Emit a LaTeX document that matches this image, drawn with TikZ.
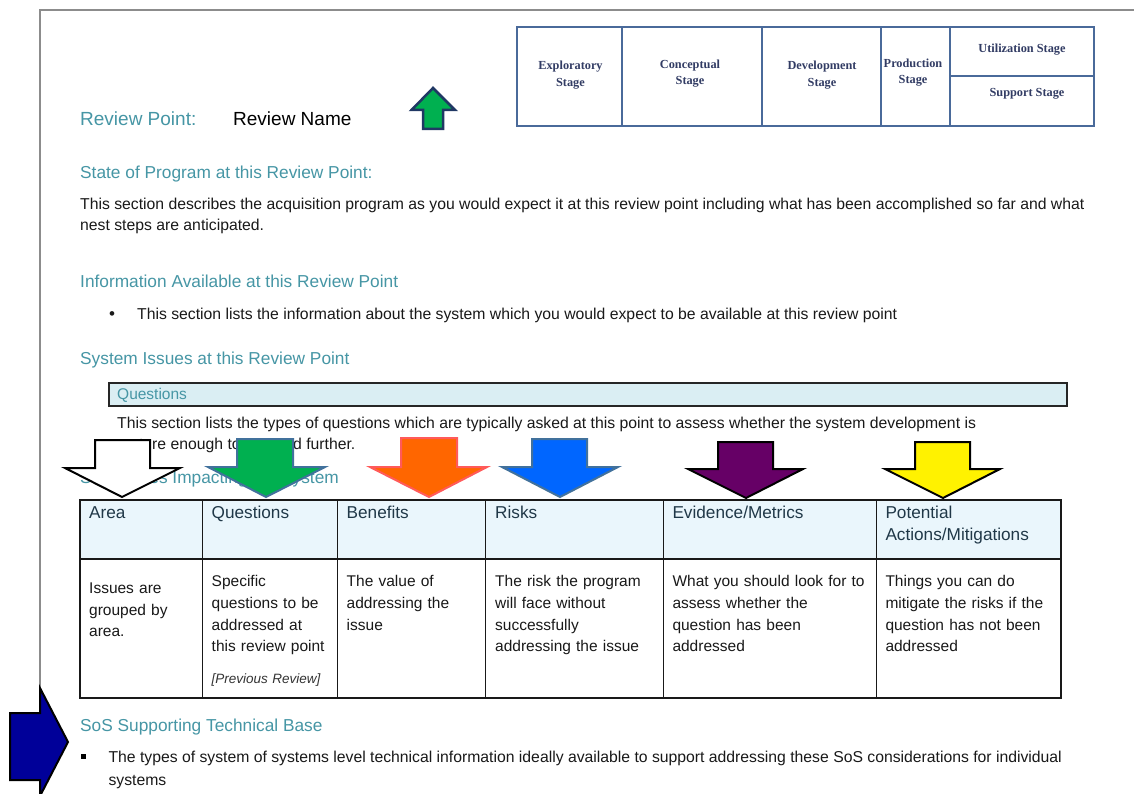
\documentclass[tikz,border=0pt]{standalone}
\usepackage{fontspec}
\setmainfont{Liberation Sans}
\newfontfamily\stagefont{Liberation Serif}
\definecolor{tealhead}{RGB}{70,150,165}
\definecolor{thtext}{RGB}{32,56,72}
\definecolor{thfill}{RGB}{234,246,252}
\definecolor{qfill}{RGB}{218,238,243}
\definecolor{stageline}{RGB}{74,106,154}
\definecolor{stagetext}{RGB}{50,60,100}
\definecolor{framegray}{RGB}{140,140,140}
\definecolor{agreen}{RGB}{0,176,80}
\definecolor{aorange}{RGB}{255,102,0}
\definecolor{aorangeline}{RGB}{255,90,90}
\definecolor{ablue}{RGB}{0,102,255}
\definecolor{asteel}{RGB}{65,113,156}
\definecolor{apurple}{RGB}{102,0,102}
\definecolor{anavy}{RGB}{0,0,153}
\definecolor{upline}{RGB}{32,56,100}
\definecolor{bodytext}{RGB}{25,25,25}
\begin{document}
\begin{tikzpicture}[x=1pt,y=-1pt,
  headtxt/.style={anchor=base west, inner sep=0pt, text=tealhead, font=\fontsize{17.3}{20}\selectfont},
  bodytxt/.style={anchor=base west, inner sep=0pt, text=bodytext, font=\fontsize{15.75}{21}\selectfont},
  thtxt/.style={anchor=base west, inner sep=0pt, text=thtext, font=\fontsize{17.2}{21.7}\selectfont, align=left, text width=170pt},
  tbtxt/.style={anchor=base west, inner sep=0pt, text=bodytext, font=\fontsize{15.5}{21.7}\selectfont, align=left, text width=200pt},
  stagetxt/.style={inner sep=0pt, text=stagetext, font=\stagefont\bfseries\fontsize{12.3}{16.6}\selectfont, align=center},
  bigarrow/.style={line width=2pt, line join=miter}
]
\useasboundingbox (0,0) rectangle (1134,794);
\fill[white] (0,0) rectangle (1134,794);

% page frame
\draw[framegray, line width=1.3pt] (40,794) -- (40,10) -- (1134,10);

% stage table
\draw[stageline, line width=1.5pt] (517,27) rectangle (1094,126);
\draw[stageline, line width=1.5pt] (622,27) -- (622,126) (762,27) -- (762,126)
  (881,27) -- (881,126) (950,27) -- (950,126) (950,76) -- (1094,76);
\node[stagetxt] (st1) at (570.5,75) {Exploratory\\Stage};
\node[stagetxt] (st2) at (690,73.5) {Conceptual\\Stage};
\node[stagetxt] (st3) at (822,75) {Development\\Stage};
\node[stagetxt] (st4) at (913,72.5) {Production\\Stage};
\node[stagetxt] (st5) at (1022,49.5) {Utilization Stage};
\node[stagetxt] (st6) at (1027,93.5) {Support Stage};

% review point
\node[headtxt, font=\fontsize{19}{22}\selectfont] (rp) at (80,126) {Review Point:};
\node[bodytxt, text=black, font=\fontsize{19}{22}\selectfont] (rn) at (233,126) {Review Name};
\draw[bigarrow, fill=agreen, draw=upline, line width=2.5pt]
  (433,88) -- (455,110) -- (443,110) -- (443,129) -- (423,129) -- (423,110) -- (411.5,110) -- cycle;

% sections
\node[headtxt] (s1) at (80,179) {State of Program at this Review Point:};
\node[bodytxt] (p1) at (80,209.5) {This section describes the acquisition program as you would expect it at this review point including what has been accomplished so far and what};
\node[bodytxt] (p2) at (80,230.5) {nest steps are anticipated.};

\node[headtxt] (s2) at (80,287) {Information Available at this Review Point};
\node[bodytxt, font=\fontsize{17}{21}\selectfont] (b1) at (109,319) {\textbullet};
\node[bodytxt] (p3) at (137,319) {This section lists the information about the system which you would expect to be available at this review point};

\node[headtxt] (s3) at (80,364.5) {System Issues at this Review Point};
\draw[fill=qfill, draw=black!85, line width=1.1pt] (109,383) rectangle (1067,406);
\node[bodytxt, text=tealhead, font=\fontsize{15.5}{18}\selectfont] (q) at (117,399) {Questions};
\node[bodytxt] (p4) at (117,428) {This section lists the types of questions which are typically asked at this point to assess whether the system development is};
\node[bodytxt] (p5) at (117,449) {mature enough to proceed further.};

\node[headtxt] (s4) at (80,483.5) {SoS Issues Impacting the System};

% table
\fill[thfill] (80,500) rectangle (1061,559);
\draw[black!90, line width=1.2pt] (80,500) rectangle (1061,698) (80,559) -- (1061,559)
  (202.7,500) -- (202.7,698) (337.3,500) -- (337.3,698) (485.7,500) -- (485.7,698)
  (663.3,500) -- (663.3,698) (876.7,500) -- (876.7,698);

\node[thtxt] (h1) at (89,518.5) {Area};
\node[thtxt] (h2) at (211.5,518.5) {Questions};
\node[thtxt] (h3) at (346.5,518.5) {Benefits};
\node[thtxt] (h4) at (495,518.5) {Risks};
\node[thtxt] (h5) at (672.3,518.5) {Evidence/Metrics};
\node[thtxt] (h6) at (885.3,518.5) {Potential\\Actions/Mitigations};

\node[tbtxt] (c1) at (89,593.3) {Issues are\\grouped by\\area.};
\node[tbtxt] (c2) at (211.5,586.7) {Specific\\questions to be\\addressed at\\this review point};
\node[tbtxt, font=\itshape\fontsize{13.5}{16}\selectfont, text=black!80] (c2b) at (211.5,683.3) {[Previous Review]};
\node[tbtxt] (c3) at (346.5,586.7) {The value of\\addressing the\\issue};
\node[tbtxt] (c4) at (495,586.7) {The risk the program\\will face without\\successfully\\addressing the issue};
\node[tbtxt] (c5) at (672.3,586.7) {What you should look for to\\assess whether the\\question has been\\addressed};
\node[tbtxt] (c6) at (885.3,586.7) {Things you can do\\mitigate the risks if the\\question has not been\\addressed};

% down arrows
\draw[bigarrow, fill=white, draw=black]
  (95,440) -- (150,440) -- (150,468) -- (180,468) -- (122,497) -- (65,468) -- (95,468) -- cycle;
\draw[bigarrow, fill=agreen, draw=asteel]
  (237,439) -- (293,439) -- (293,467) -- (325,467) -- (266,497) -- (208,467) -- (237,467) -- cycle;
\draw[bigarrow, fill=aorange, draw=aorangeline]
  (401,438) -- (457,438) -- (457,467) -- (487,467) -- (429,497) -- (370,467) -- (401,467) -- cycle;
\draw[bigarrow, fill=ablue, draw=asteel]
  (532,439) -- (587,439) -- (587,467) -- (618,467) -- (560,497) -- (502,467) -- (532,467) -- cycle;
\draw[bigarrow, fill=apurple, draw=black]
  (718,442) -- (773,442) -- (773,469) -- (803,469) -- (746,498) -- (688,469) -- (718,469) -- cycle;
\draw[bigarrow, fill=yellow, draw=black]
  (915,442) -- (970,442) -- (970,469) -- (1000,469) -- (943,498) -- (885,469) -- (915,469) -- cycle;

% bottom section
\node[headtxt] (s5) at (80,731.7) {SoS Supporting Technical Base};
\fill[black] (81,754) rectangle (86,759);
\node[bodytxt] (p6) at (108.3,762.5) {The types of system of systems level technical information ideally available to support addressing these SoS considerations for individual};
\node[bodytxt] (p7) at (108.3,785) {systems};

% navy right arrow
\draw[bigarrow, fill=anavy, draw=black]
  (10,713) -- (40,713) -- (40,688) -- (68,742) -- (40,796) -- (40,780) -- (10,780) -- cycle;
\end{tikzpicture}
\end{document}
